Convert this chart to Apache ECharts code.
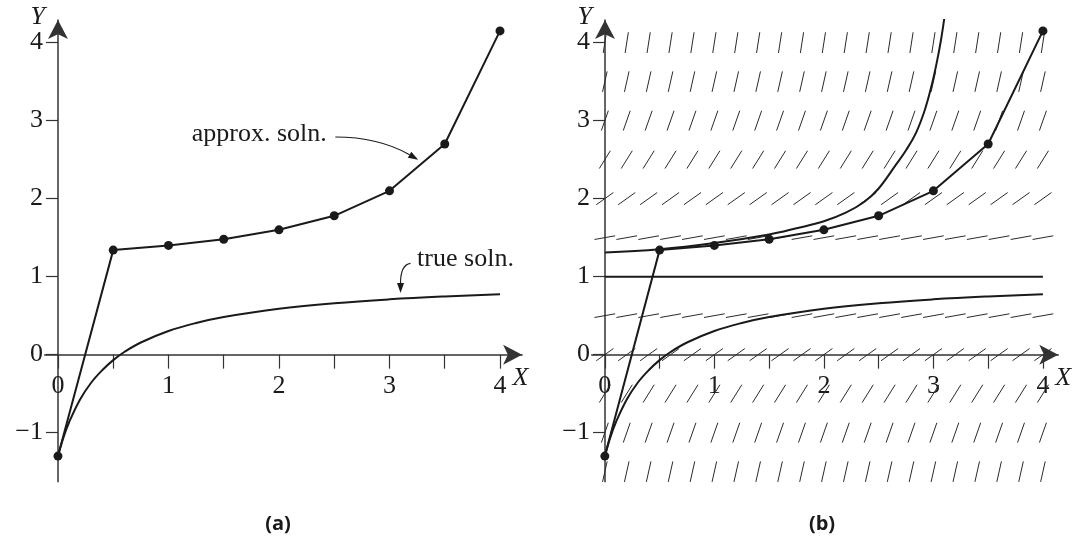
<!DOCTYPE html>
<html>
<head>
<meta charset="utf-8">
<script src="https://cdn.jsdelivr.net/npm/echarts@6/dist/echarts.min.js"></script>
<style>
  html, body { margin: 0; padding: 0; background: #fff; }
  #chart { width: 1074px; height: 542px; }
</style>
</head>
<body>
<div id="chart"></div>
<script>
// Euler approximation, step 0.5
const eulerX = [0, 0.5, 1, 1.5, 2, 2.5, 3, 3.5, 4]
const eulerY = [-1.3, 1.34, 1.4, 1.48, 1.6, 1.78, 2.1, 2.7, 4.15]

// true solution through (0, -1.3)
const trueX = [0, 0.05, 0.1, 0.2, 0.3, 0.4, 0.5, 0.6, 0.75, 1, 1.25, 1.5, 2, 2.5, 3, 3.5, 4]
const trueY = [-1.3, -1.06, -0.87, -0.575, -0.36, -0.2, -0.07, 0.034, 0.156, 0.303, 0.406, 0.483, 0.589, 0.659, 0.709, 0.746, 0.775]

// solution through (0, 1.31) in panel (b)
const upperX = [0, 0.5, 1, 1.5, 1.75, 2, 2.2, 2.37, 2.5, 2.66, 2.75, 2.84, 2.92, 2.98, 3.03, 3.07, 3.1]
const upperY = [1.31, 1.35, 1.43, 1.54, 1.62, 1.71, 1.82, 1.96, 2.13, 2.44, 2.62, 2.84, 3.13, 3.43, 3.74, 4.04, 4.32]

// equilibrium solution y = 1
const flatX = [0, 4]
const flatY = [1, 1]

// slope field: columns, rows and the slope in each row
const fieldX = [0, 0.2, 0.4, 0.6, 0.8, 1, 1.2, 1.4, 1.6, 1.8, 2, 2.2, 2.4, 2.6, 2.8, 3, 3.2, 3.4, 3.6, 3.8, 4]
const fieldY = [4, 3.5, 3, 2.5, 2, 1.5, 0.5, 0, -0.5, -1, -1.5]
const fieldSlope = [9, 6.25, 4, 2.25, 1, 0.25, 0.25, 1, 2.25, 4, 6.25]

// tick values
const xTicks = [0, 0.5, 1, 1.5, 2, 2.5, 3, 3.5, 4]
const xLabels = [0, 1, 2, 3, 4]
const yTicks = [-1, 0, 1, 2, 3, 4]

// annotations in panel (a)
const noteText = ['approx. soln.', 'true soln.']
const noteX = [1.21, 3.25]
const noteY = [2.82, 1.23]
const arrowFrom = [[2.51, 2.79], [3.19, 1.17]]
const arrowBend = [[2.9, 2.79], [3.1, 1.15]]
const arrowTo = [[3.26, 2.5], [3.1, 0.79]]

const ink = '#1a1a1a'
const axisColor = '#333'
const serif = 'Liberation Serif'

// layout of the two panels (pixels) and the axis ranges
const grids = [
  { left: 44.7, top: 20, width: 477.4, height: 461.8 },
  { left: 591.7, top: 20, width: 472.9, height: 461.8 }
]
const xMin = -0.12
const xMax = [4.2, 4.14]
const yMin = -1.63
const yMax = 4.29

const pairs = (xs, ys) => xs.map((x, i) => [x, ys[i]])

const fieldData = []
fieldY.forEach((y, r) => {
  fieldX.forEach(x => fieldData.push([x, y, fieldSlope[r]]))
})

// axes cross at the origin: shift them there with offset
const xOffset = -(0 - yMin) / (yMax - yMin) * grids[0].height

function xAxisFor (i, nameGap) {
  return {
    type: 'value',
    gridIndex: i,
    min: xMin,
    max: xMax[i],
    offset: xOffset,
    axisLine: {
      onZero: false,
      symbol: ['none', 'arrow'],
      symbolSize: [15, 19],
      lineStyle: { color: axisColor, width: 1.5 }
    },
    axisTick: { customValues: xTicks, length: 14, lineStyle: { color: axisColor, width: 1.2 } },
    axisLabel: { customValues: xLabels, margin: 19, fontFamily: serif, fontSize: 26, color: ink },
    splitLine: { show: false },
    name: 'X',
    nameLocation: 'end',
    nameGap: nameGap,
    nameTextStyle: {
      fontFamily: serif, fontStyle: 'italic', fontSize: 26, color: ink,
      align: 'left', verticalAlign: 'top', padding: [11, 0, 0, 0]
    }
  }
}

function yAxisFor (i) {
  return {
    type: 'value',
    gridIndex: i,
    min: yMin,
    max: yMax,
    offset: -(0 - xMin) / (xMax[i] - xMin) * grids[i].width,
    axisLine: {
      onZero: false,
      symbol: ['none', 'arrow'],
      symbolSize: [15, 19],
      lineStyle: { color: axisColor, width: 1.5 }
    },
    axisTick: { customValues: yTicks, length: 12, lineStyle: { color: axisColor, width: 1.2 } },
    axisLabel: {
      customValues: yTicks, margin: 15, fontFamily: serif, fontSize: 26, color: ink,
      formatter: v => String(v).replace('-', '\u2212')
    },
    splitLine: { show: false },
    name: 'Y',
    nameLocation: 'end',
    nameGap: -8,
    nameTextStyle: {
      fontFamily: serif, fontStyle: 'italic', fontSize: 26, color: ink,
      align: 'right', verticalAlign: 'middle', padding: [0, 13, 0, 0]
    }
  }
}

function eulerSeries (i) {
  return {
    type: 'line', xAxisIndex: i, yAxisIndex: i, z: 5,
    data: pairs(eulerX, eulerY),
    symbol: 'circle', symbolSize: 9, showSymbol: true,
    itemStyle: { color: ink },
    lineStyle: { color: ink, width: 2 }
  }
}

function curveSeries (i, xs, ys) {
  return {
    type: 'line', xAxisIndex: i, yAxisIndex: i, z: 4,
    data: pairs(xs, ys), smooth: 0.4, symbol: 'none',
    lineStyle: { color: ink, width: 2 }
  }
}

const chart = echarts.init(document.getElementById('chart'), null, { renderer: 'canvas' })

chart.setOption({
  backgroundColor: '#fff',
  animation: false,
  grid: grids,
  xAxis: [xAxisFor(0, -12), xAxisFor(1, -8)],
  yAxis: [yAxisFor(0), yAxisFor(1)],
  graphic: [
    { type: 'text', x: 278, y: 514, style: { text: '(a)', fontFamily: 'Open Sans', fontWeight: 'bold', fontSize: 20, fill: ink, align: 'center' } },
    { type: 'text', x: 822, y: 514, style: { text: '(b)', fontFamily: 'Open Sans', fontWeight: 'bold', fontSize: 20, fill: ink, align: 'center' } }
  ],
  series: [
    // panel (a)
    curveSeries(0, trueX, trueY),
    eulerSeries(0),
    {
      type: 'custom', xAxisIndex: 0, yAxisIndex: 0, z: 6,
      data: noteX.map((x, i) => [x, noteY[i]]),
      renderItem: (params, api) => {
        const p = api.coord([api.value(0), api.value(1)])
        return {
          type: 'text', x: p[0], y: p[1],
          style: { text: noteText[params.dataIndex], fontFamily: serif, fontSize: 26, fill: ink, align: 'left', verticalAlign: 'middle' }
        }
      }
    },
    {
      type: 'custom', xAxisIndex: 0, yAxisIndex: 0, z: 6,
      data: arrowFrom.map((f, i) => [f[0], f[1], arrowBend[i][0], arrowBend[i][1], arrowTo[i][0], arrowTo[i][1]]),
      renderItem: (params, api) => {
        const a = api.coord([api.value(0), api.value(1)])
        const c = api.coord([api.value(2), api.value(3)])
        const t = api.coord([api.value(4), api.value(5)])
        let dx = t[0] - c[0]
        let dy = t[1] - c[1]
        const len = Math.hypot(dx, dy)
        dx /= len; dy /= len
        const hl = 10
        const hw = 3.5
        const bx = t[0] - dx * hl
        const by = t[1] - dy * hl
        return {
          type: 'group',
          children: [
            {
              type: 'bezierCurve',
              shape: { x1: a[0], y1: a[1], cpx1: c[0], cpy1: c[1], x2: bx, y2: by },
              style: { stroke: ink, lineWidth: 1.1, fill: null }
            },
            {
              type: 'polygon',
              shape: { points: [[t[0], t[1]], [bx - dy * hw, by + dx * hw], [bx + dy * hw, by - dx * hw]] },
              style: { fill: ink }
            }
          ]
        }
      }
    },

    // panel (b)
    {
      type: 'custom', xAxisIndex: 1, yAxisIndex: 1, z: 1,
      data: fieldData,
      renderItem: (params, api) => {
        const x = api.value(0)
        const y = api.value(1)
        const s = api.value(2)
        const p = api.coord([x, y])
        const q = api.coord([x + 0.1, y + 0.1 * s])
        let dx = q[0] - p[0]
        let dy = q[1] - p[1]
        const len = Math.hypot(dx, dy)
        dx /= len; dy /= len
        const h = 10.5
        return {
          type: 'line',
          shape: { x1: p[0] - dx * h, y1: p[1] - dy * h, x2: p[0] + dx * h, y2: p[1] + dy * h },
          style: { stroke: '#2a2a2a', lineWidth: 1 }
        }
      }
    },
    {
      type: 'line', xAxisIndex: 1, yAxisIndex: 1, z: 4,
      data: pairs(flatX, flatY), symbol: 'none',
      lineStyle: { color: ink, width: 2 }
    },
    curveSeries(1, trueX, trueY),
    curveSeries(1, upperX, upperY),
    eulerSeries(1)
  ]
})
</script>
</body>
</html>
